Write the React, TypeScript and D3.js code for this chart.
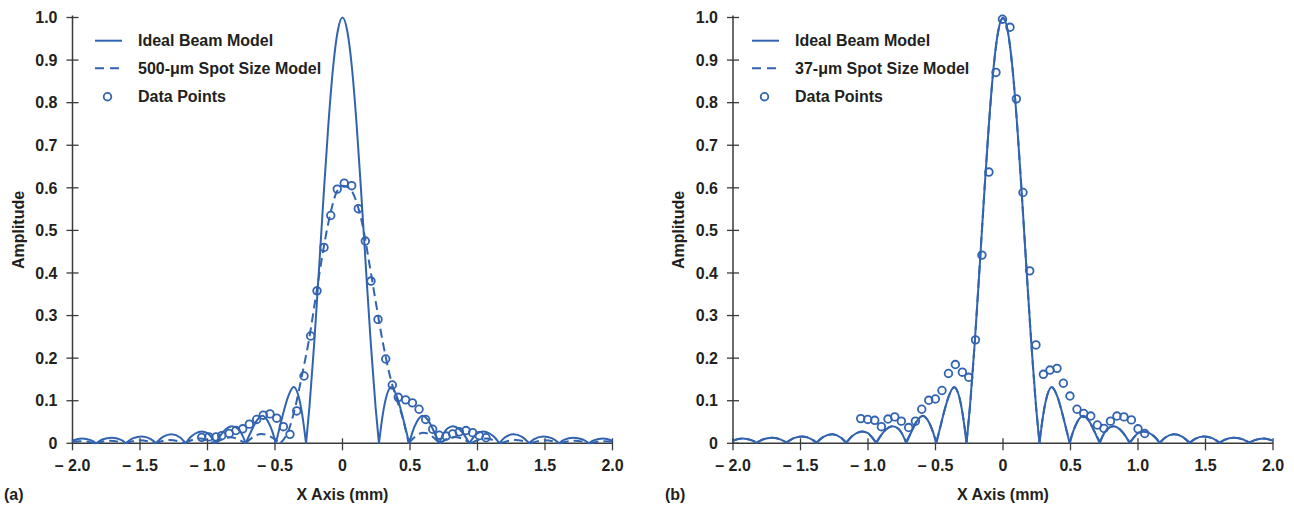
import { useEffect, useRef } from "react";
import * as d3 from "d3";

const W = 1294;
const H = 506;
const BLUE = "#3163b1";
const INK = "#231f20";
const AXIS_COLOR = "#3a3a3a";
const FONT = "'Liberation Sans', Arial, sans-serif";
const FONT_SIZE = 16;

const X_TICKS = [-2, -1.5, -1, -0.5, 0, 0.5, 1, 1.5, 2];
const X_TICK_LABELS = ["\u2013 2.0", "\u2013 1.5", "\u2013 1.0", "\u2013 0.5", "0", "0.5", "1.0", "1.5", "2.0"];
const Y_TICKS = [0, 0.1, 0.2, 0.3, 0.4, 0.5, 0.6, 0.7, 0.8, 0.9, 1.0];
const Y_TICK_LABELS = ["0", "0.1", "0.2", "0.3", "0.4", "0.5", "0.6", "0.7", "0.8", "0.9", "1.0"];

/** Ideal beam model (same in both panels), amplitude vs x in mm. */
const IDEAL_X = [
  -2.0, -1.932, -1.86, -1.825, -1.78, -1.71, -1.64, -1.604, -1.55, -1.488, -1.42, -1.382,
  -1.33, -1.266, -1.2, -1.161, -1.13, -1.09, -1.043, -1.0, -0.97, -0.939, -0.905, -0.865,
  -0.819, -0.775, -0.745, -0.717, -0.68, -0.64, -0.593, -0.55, -0.52, -0.494, -0.47, -0.438,
  -0.4, -0.362, -0.326, -0.3, -0.27, -0.245, -0.21, -0.175, -0.14, -0.105, -0.07, -0.035,
  0,
  0.035, 0.07, 0.105, 0.14, 0.175, 0.21, 0.245, 0.27, 0.3, 0.326, 0.362, 0.4,
  0.438, 0.47, 0.494, 0.52, 0.55, 0.593, 0.64, 0.68, 0.717, 0.745, 0.775, 0.819,
  0.865, 0.905, 0.939, 0.97, 1.0, 1.043, 1.09, 1.13, 1.161, 1.2, 1.266, 1.33,
  1.382, 1.42, 1.488, 1.55, 1.604, 1.64, 1.71, 1.78, 1.825, 1.86, 1.932, 2.0,
];
const IDEAL_Y = [
  0.006, 0.011, 0.007, 0, 0.009, 0.013, 0.008, 0, 0.012, 0.016, 0.01, 0,
  0.015, 0.021, 0.013, 0, 0.013, 0.023, 0.028, 0.024, 0.014, 0, 0.018, 0.033,
  0.04, 0.034, 0.021, 0, 0.026, 0.051, 0.0645, 0.05, 0.028, 0, 0.031, 0.072,
  0.112, 0.132, 0.111, 0.071, 0, 0.085, 0.233, 0.404, 0.581, 0.747, 0.882, 0.969,
  1.0,
  0.969, 0.882, 0.747, 0.581, 0.404, 0.233, 0.085, 0, 0.071, 0.111, 0.132, 0.112,
  0.072, 0.031, 0, 0.028, 0.05, 0.0645, 0.051, 0.026, 0, 0.021, 0.034, 0.04,
  0.033, 0.018, 0, 0.014, 0.024, 0.028, 0.023, 0.013, 0, 0.013, 0.021, 0.015,
  0, 0.01, 0.016, 0.012, 0, 0.008, 0.013, 0.009, 0, 0.007, 0.011, 0.006,
];

/** 37-um spot model (panel b) — sits almost on top of the ideal curve. */
const SPOT37_Y = [
  0.006, 0.011, 0.007, 0.002, 0.009, 0.013, 0.008, 0.002, 0.012, 0.016, 0.01, 0.002,
  0.015, 0.021, 0.013, 0.002, 0.013, 0.023, 0.028, 0.024, 0.014, 0.002, 0.018, 0.033,
  0.04, 0.034, 0.021, 0.003, 0.026, 0.051, 0.064, 0.05, 0.028, 0.003, 0.031, 0.072,
  0.112, 0.131, 0.111, 0.071, 0.004, 0.086, 0.234, 0.405, 0.581, 0.746, 0.881, 0.968,
  0.998,
  0.968, 0.881, 0.746, 0.581, 0.405, 0.234, 0.086, 0.004, 0.071, 0.111, 0.131, 0.112,
  0.072, 0.031, 0.003, 0.028, 0.05, 0.064, 0.051, 0.026, 0.003, 0.021, 0.034, 0.04,
  0.033, 0.018, 0.002, 0.014, 0.024, 0.028, 0.023, 0.013, 0.002, 0.013, 0.021, 0.015,
  0.002, 0.01, 0.016, 0.012, 0.002, 0.008, 0.013, 0.009, 0.002, 0.007, 0.011, 0.006,
];

/** 500-um spot model (panel a). */
const SPOT500_X = [
  -2.0, -1.93, -1.83, -1.72, -1.61, -1.5, -1.39, -1.28, -1.17, -1.06, -0.95, -0.83,
  -0.72, -0.6, -0.46, -0.4, -0.35, -0.3, -0.25, -0.2, -0.15, -0.1, -0.05, 0,
  0.05, 0.1, 0.15, 0.2, 0.25, 0.3, 0.35, 0.4, 0.45, 0.49, 0.6, 0.72,
  0.83, 0.95, 1.06, 1.17, 1.28, 1.39, 1.5, 1.61, 1.72, 1.83, 1.93, 2.0,
];
const SPOT500_Y = [
  0.004, 0.005, 0, 0.006, 0, 0.007, 0, 0.008, 0, 0.011, 0, 0.014,
  0, 0.022, 0, 0.03, 0.085, 0.16, 0.24, 0.34, 0.44, 0.525, 0.585, 0.605,
  0.6, 0.57, 0.51, 0.42, 0.325, 0.235, 0.16, 0.105, 0.055, 0, 0.025, 0,
  0.015, 0, 0.011, 0, 0.008, 0, 0.007, 0, 0.006, 0, 0.005, 0.004,
];

/** Measured data points. */
const DATA_A_X = [
  -1.043, -0.99, -0.937, -0.895, -0.839, -0.789, -0.739, -0.69, -0.636, -0.587, -0.537,
  -0.487, -0.438, -0.389, -0.339, -0.285, -0.236, -0.189, -0.137, -0.087, -0.039, 0.013,
  0.068, 0.117, 0.169, 0.211, 0.263, 0.32, 0.369, 0.413, 0.468, 0.518, 0.567, 0.616,
  0.668, 0.717, 0.767, 0.816, 0.865, 0.915, 0.964, 1.013, 1.063,
];
const DATA_A_Y = [
  0.014, 0.015, 0.015, 0.018, 0.023, 0.03, 0.034, 0.045, 0.056, 0.066, 0.069,
  0.059, 0.039, 0.021, 0.076, 0.158, 0.252, 0.358, 0.46, 0.535, 0.597, 0.611,
  0.605, 0.551, 0.475, 0.381, 0.291, 0.198, 0.137, 0.108, 0.102, 0.095, 0.08, 0.056,
  0.033, 0.019, 0.017, 0.022, 0.027, 0.03, 0.025, 0.018, 0.013,
];
const DATA_B_X = [
  -1.054, -1.002, -0.95, -0.901, -0.852, -0.802, -0.753, -0.699, -0.649, -0.602, -0.55,
  -0.501, -0.452, -0.404, -0.353, -0.301, -0.254, -0.204, -0.156, -0.104, -0.052, -0.004,
  0.052, 0.099, 0.148, 0.198, 0.244, 0.299, 0.348, 0.4, 0.447, 0.496, 0.548, 0.598,
  0.65, 0.699, 0.748, 0.796, 0.844, 0.896, 0.951, 1.0, 1.05,
];
const DATA_B_Y = [
  0.058, 0.056, 0.054, 0.039, 0.057, 0.062, 0.052, 0.037, 0.052, 0.08, 0.101,
  0.104, 0.124, 0.164, 0.185, 0.167, 0.155, 0.243, 0.442, 0.637, 0.871, 0.996,
  0.977, 0.809, 0.589, 0.405, 0.231, 0.162, 0.172, 0.176, 0.141, 0.111, 0.08, 0.07,
  0.064, 0.043, 0.035, 0.052, 0.064, 0.062, 0.055, 0.034, 0.023,
];

const PANELS = [
  {
    tag: "(a)",
    spotLabel: "500-\u03bcm Spot Size Model",
    spotX: SPOT500_X,
    spotY: SPOT500_Y,
    dataX: DATA_A_X,
    dataY: DATA_A_Y,
    left: 72.5,
    right: 612.5,
    tagX: 4,
    legendDx: 22.5,
  },
  {
    tag: "(b)",
    spotLabel: "37-\u03bcm Spot Size Model",
    spotX: IDEAL_X,
    spotY: SPOT37_Y,
    dataX: DATA_B_X,
    dataY: DATA_B_Y,
    left: 733,
    right: 1273,
    tagX: 665,
    legendDx: 19,
  },
];

const Y_BOTTOM = 443.3;
const Y_TOP = 17.5;

/** Split a sampled curve at its local minima so cusps stay sharp. */
function lobes(xs: number[], ys: number[]) {
  const segs: [number, number][][] = [];
  let cur: [number, number][] = [];
  xs.forEach((xv, i) => {
    cur.push([xv, ys[i]]);
    const isMin =
      i > 0 && i < xs.length - 1 && ys[i] <= ys[i - 1] && ys[i] <= ys[i + 1];
    if (isMin) {
      segs.push(cur);
      cur = [[xv, ys[i]]];
    }
  });
  if (cur.length > 1) segs.push(cur);
  return segs;
}

function drawPanel(svg: any, p: (typeof PANELS)[number]) {
  const x = d3.scaleLinear().domain([-2, 2]).range([p.left, p.right]);
  const y = d3.scaleLinear().domain([0, 1]).range([Y_BOTTOM, Y_TOP]);
  const g = svg.append("g").attr("font-family", FONT).attr("font-weight", 700);

  // axes
  g.append("line")
    .attr("x1", p.left).attr("x2", p.left)
    .attr("y1", y(0)).attr("y2", y(1) - 2)
    .attr("stroke", AXIS_COLOR).attr("stroke-width", 1.5);
  g.append("line")
    .attr("x1", p.left).attr("x2", p.right)
    .attr("y1", y(0)).attr("y2", y(0))
    .attr("stroke", AXIS_COLOR).attr("stroke-width", 1.5);

  g.selectAll(".yt")
    .data(Y_TICKS)
    .join("line")
    .attr("x1", p.left - 6).attr("x2", p.left + 6)
    .attr("y1", (d: number) => y(d)).attr("y2", (d: number) => y(d))
    .attr("stroke", AXIS_COLOR).attr("stroke-width", 1.3);
  g.selectAll(".yl")
    .data(Y_TICKS)
    .join("text")
    .attr("x", p.left - 15)
    .attr("y", (d: number) => y(d))
    .attr("dy", "0.36em")
    .attr("text-anchor", "end")
    .attr("font-size", FONT_SIZE)
    .attr("fill", INK)
    .text((_: number, i: number) => Y_TICK_LABELS[i]);

  g.selectAll(".xt")
    .data(X_TICKS)
    .join("line")
    .attr("x1", (d: number) => x(d)).attr("x2", (d: number) => x(d))
    .attr("y1", y(0) - 5).attr("y2", y(0) + 7)
    .attr("stroke", AXIS_COLOR).attr("stroke-width", 1.3);
  g.selectAll(".xl")
    .data(X_TICKS)
    .join("text")
    .attr("x", (d: number) => x(d))
    .attr("y", y(0) + 28)
    .attr("text-anchor", "middle")
    .attr("font-size", FONT_SIZE)
    .attr("fill", INK)
    .text((_: number, i: number) => X_TICK_LABELS[i]);

  // titles
  g.append("text")
    .attr("transform", `translate(${p.left - 49},${230}) rotate(-90)`)
    .attr("text-anchor", "middle")
    .attr("font-size", FONT_SIZE)
    .attr("fill", INK)
    .text("Amplitude");
  g.append("text")
    .attr("x", x(0))
    .attr("y", 500)
    .attr("text-anchor", "middle")
    .attr("font-size", FONT_SIZE)
    .attr("fill", INK)
    .text("X Axis (mm)");
  g.append("text")
    .attr("x", p.tagX)
    .attr("y", 500)
    .attr("font-size", FONT_SIZE)
    .attr("fill", INK)
    .text(p.tag);

  // curves
  const line = d3
    .line<[number, number]>()
    .x((d) => x(d[0]))
    .y((d) => y(d[1]))
    .curve(d3.curveMonotoneX);

  const curves = g.append("g").attr("fill", "none").attr("stroke", BLUE).attr("stroke-width", 2);
  lobes(IDEAL_X, IDEAL_Y).forEach((seg) => {
    curves.append("path").attr("d", line(seg));
  });
  const dashPath = lobes(p.spotX, p.spotY).map((seg) => line(seg)).join("");
  curves.append("path").attr("d", dashPath).attr("stroke-dasharray", "9,5");

  g.append("g")
    .selectAll("circle")
    .data(p.dataX.map((xv, i) => [xv, p.dataY[i]]))
    .join("circle")
    .attr("cx", (d: number[]) => x(d[0]))
    .attr("cy", (d: number[]) => y(d[1]))
    .attr("r", 3.8)
    .attr("fill", "none")
    .attr("stroke", BLUE)
    .attr("stroke-width", 1.8);

  // legend
  const lx = p.left + p.legendDx;
  const tx = lx + 43;
  const rows = [40.7, 68.3, 96.7];
  const leg = g.append("g");
  leg.append("line")
    .attr("x1", lx).attr("x2", lx + 27).attr("y1", rows[0]).attr("y2", rows[0])
    .attr("stroke", BLUE).attr("stroke-width", 2);
  leg.append("line")
    .attr("x1", lx).attr("x2", lx + 27).attr("y1", rows[1]).attr("y2", rows[1])
    .attr("stroke", BLUE).attr("stroke-width", 2).attr("stroke-dasharray", "9,6");
  leg.append("circle")
    .attr("cx", lx + 12.5).attr("cy", rows[2]).attr("r", 3.8)
    .attr("fill", "none").attr("stroke", BLUE).attr("stroke-width", 1.8);
  ["Ideal Beam Model", p.spotLabel, "Data Points"].forEach((t, i) => {
    leg.append("text")
      .attr("x", tx)
      .attr("y", rows[i])
      .attr("dy", "0.36em")
      .attr("font-size", FONT_SIZE)
      .attr("fill", INK)
      .text(t);
  });
}

export default function App() {
  const svgRef = useRef<SVGSVGElement | null>(null);

  useEffect(() => {
    const svg = d3.select(svgRef.current);
    svg.selectAll("*").remove();
    svg.append("rect").attr("width", W).attr("height", H).attr("fill", "#fff");
    PANELS.forEach((p) => drawPanel(svg, p));
  }, []);

  return (
    <div style={{ position: "absolute", left: 0, top: 0 }}>
      <svg ref={svgRef} width={W} height={H} style={{ display: "block" }} />
    </div>
  );
}
